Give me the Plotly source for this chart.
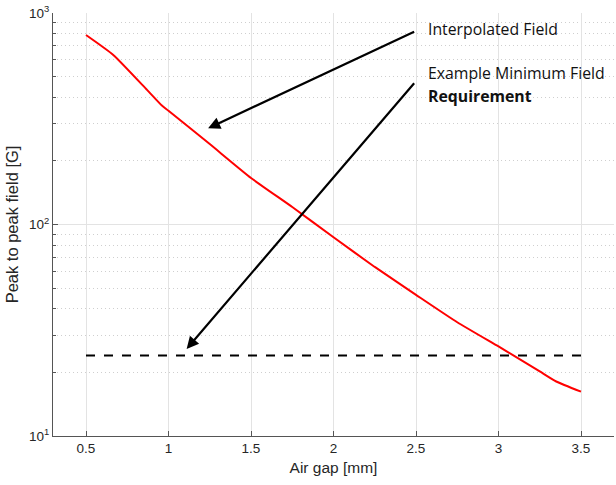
import math
import plotly.graph_objects as go

# Data
air_gap = [0.5, 0.667, 0.87, 0.96, 1.0, 1.25, 1.5, 1.75, 2.0, 2.25, 2.5, 2.75, 3.0, 3.1, 3.25, 3.35, 3.5]
field = [787, 632, 433, 365, 345, 240, 166, 121, 87, 63, 46.5, 34.5, 26.5, 23.8, 20.2, 18.1, 16.2]
req_x = [0.5, 3.5]
req_y = [24, 24]
x_ticks = [0.5, 1, 1.5, 2, 2.5, 3, 3.5]
x_tick_labels = ["0.5", "1", "1.5", "2", "2.5", "3", "3.5"]
y_ticks = [10, 100, 1000]
y_tick_labels = ["10<sup>1</sup>", "10<sup>2</sup>", "10<sup>3</sup>"]
y_minor = [m * d for d in (10, 100) for m in range(2, 10)]

fig = go.Figure()
fig.add_trace(go.Scatter(x=air_gap, y=field, mode="lines", line=dict(color="#ff0000", width=2, shape="spline", smoothing=0.5), showlegend=False))
fig.add_trace(go.Scatter(x=req_x, y=req_y, mode="lines", line=dict(color="black", width=2, dash="dash"), showlegend=False))

axis_font = dict(family="Liberation Sans, Arial, sans-serif", size=13.5, color="#262626")
xtitle_font = dict(family="Liberation Sans, Arial, sans-serif", size=15.5, color="#262626")
ytitle_font = dict(family="Liberation Sans, Arial, sans-serif", size=16.5, color="#262626")

fig.update_layout(
    width=616, height=485,
    margin=dict(l=53, r=2, t=13, b=49),
    plot_bgcolor="white", paper_bgcolor="white",
    font=axis_font,
    xaxis=dict(
        range=[0.3, 3.7], tickvals=x_ticks, ticktext=x_tick_labels,
        showgrid=True, gridcolor="#e3e3e3", gridwidth=1,
        showline=True, linecolor="#555555", linewidth=1,
        ticks="inside", ticklen=5, tickcolor="#555555",
        zeroline=False,
        title=dict(text="Air gap [mm]", font=xtitle_font, standoff=6),
    ),
    yaxis=dict(
        type="log", range=[1, 3], tickvals=y_ticks, ticktext=y_tick_labels,
        showgrid=True, gridcolor="#e3e3e3", gridwidth=1,
        showline=True, linecolor="#555555", linewidth=1,
        ticks="inside", ticklen=5, tickcolor="#555555",
        zeroline=False,
        minor=dict(tickvals=y_minor, showgrid=True, gridcolor="#cfcfcf", griddash="1px,3px", gridwidth=1, ticks="inside", ticklen=3, tickcolor="#555555"),
        title=dict(text="Peak to peak field [G]", font=ytitle_font, standoff=6),
    ),
)

ann_font = dict(family="Open Sans, Noto Sans, sans-serif", size=15.8, color="#111111")
arrows = [((1.24, 285), (2.51, 831)), ((1.11, 25.8), (2.51, 487))]
for (hx, hy), (tx, ty) in arrows:
    fig.add_annotation(x=hx, y=math.log10(hy), ax=tx, ay=math.log10(ty), xref="x", yref="y", axref="x", ayref="y",
                       showarrow=True, arrowhead=2, arrowsize=1.1, arrowwidth=2.2, arrowcolor="black", text=" ")
fig.add_annotation(x=(426 - 53) / 561, y=(436 - 29) / 423, xref="paper", yref="paper", xanchor="left", yanchor="middle",
                   showarrow=False, text="Interpolated Field", font=ann_font)
fig.add_annotation(x=(426 - 53) / 561, y=(436 - 73) / 423, xref="paper", yref="paper", xanchor="left", yanchor="middle",
                   showarrow=False, text="Example Minimum Field", font=ann_font)
fig.add_annotation(x=(426 - 53) / 561, y=(436 - 96) / 423, xref="paper", yref="paper", xanchor="left", yanchor="middle",
                   showarrow=False, text="<b>Requirement</b>", font=ann_font)

fig.write_html("out.html")
